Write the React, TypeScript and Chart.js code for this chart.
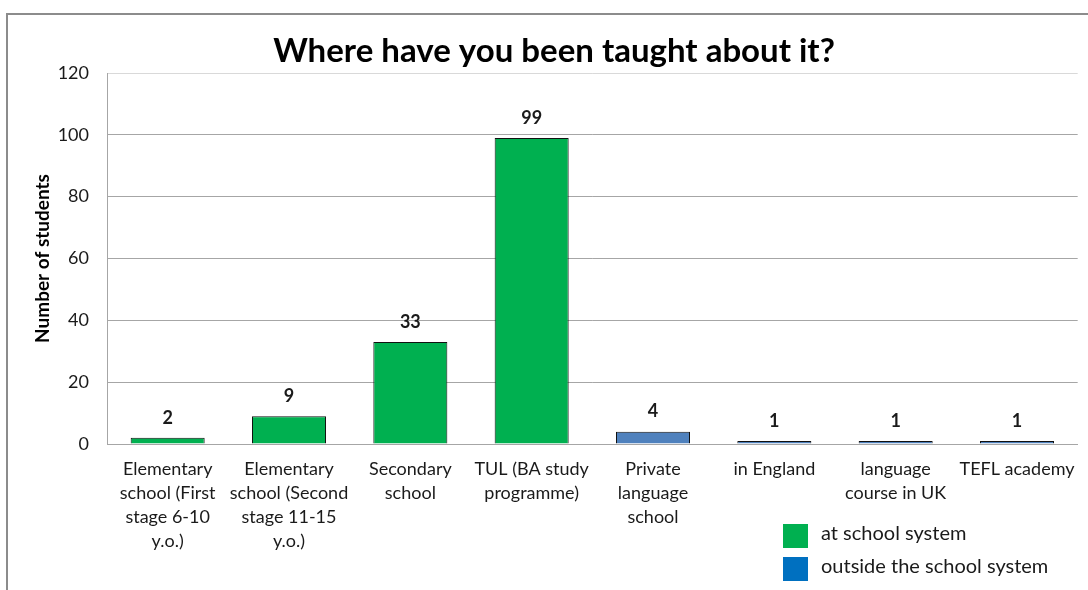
import React, { useEffect, useRef } from "react";
import { Chart, registerables } from "chart.js";

Chart.register(...registerables);

const titleText = "Where have you been taught about it?";
const yAxisTitle = "Number of students";
const categories: string[][] = [
  ["Elementary", "school (First", "stage 6-10", "y.o.)"],
  ["Elementary", "school (Second", "stage 11-15", "y.o.)"],
  ["Secondary", "school"],
  ["TUL (BA study", "programme)"],
  ["Private", "language", "school"],
  ["in England"],
  ["language", "course in UK"],
  ["TEFL academy"],
];
const values = [2, 9, 33, 99, 4, 1, 1, 1];
const groups = [0, 0, 0, 0, 1, 1, 1, 1];
const legendLabels = ["at school system", "outside the school system"];
const yMin = 0;
const yMax = 120;
const yStep = 20;

const barColors = ["#00B050", "#4F81BD"];
const legendColors = ["#00B050", "#0070C0"];
const FONT = "Lato, 'Noto Sans', sans-serif";
const TEXT = "#1a1a1a";

const decorPlugin = {
  id: "decor",
  beforeDraw(chart: any) {
    const ctx = chart.ctx;
    ctx.save();
    ctx.fillStyle = "#ffffff";
    ctx.fillRect(0, 0, chart.width, chart.height);
    ctx.strokeStyle = "#8c8c8c";
    ctx.lineWidth = 2;
    ctx.beginPath();
    ctx.moveTo(7, chart.height + 2);
    ctx.lineTo(7, 14);
    ctx.lineTo(chart.width + 2, 14);
    ctx.stroke();
    ctx.restore();
  },
  afterDatasetsDraw(chart: any) {
    const ctx = chart.ctx;
    const meta = chart.getDatasetMeta(0);
    ctx.save();
    ctx.font = `bold 18px ${FONT}`;
    ctx.fillStyle = TEXT;
    ctx.textAlign = "center";
    ctx.textBaseline = "middle";
    meta.data.forEach((bar: any, i: number) => {
      ctx.fillText(String(values[i]), bar.x, bar.y - 20);
    });
    ctx.restore();
  },
  afterDraw(chart: any) {
    const ctx = chart.ctx;
    ctx.save();
    // title
    ctx.font = `bold 33px ${FONT}`;
    ctx.fillStyle = "#000";
    ctx.textAlign = "center";
    ctx.textBaseline = "middle";
    ctx.fillText(titleText, 554, 51);
    // legend
    ctx.font = `20px ${FONT}`;
    ctx.textAlign = "left";
    legendLabels.forEach((lab, i) => {
      const y = 524 + i * 33;
      ctx.fillStyle = legendColors[i];
      ctx.fillRect(783, y, 25, 24);
      ctx.fillStyle = TEXT;
      ctx.fillText(lab, 821, y + 10);
    });
    ctx.restore();
  },
};

export default function App() {
  const ref = useRef<HTMLCanvasElement | null>(null);
  useEffect(() => {
    document.body.style.margin = "0";
    if (!ref.current) return;
    const chart = new Chart(ref.current, {
      type: "bar",
      data: {
        labels: categories,
        datasets: [
          {
            data: values,
            backgroundColor: groups.map((g) => barColors[g]),
            borderColor: "#111111",
            borderWidth: 1,
            categoryPercentage: 1,
            barPercentage: 0.61,
          },
        ],
      },
      options: {
        responsive: false,
        animation: false,
        devicePixelRatio: 1,
        layout: { padding: { top: 73, right: 8, bottom: 0, left: 0 } },
        plugins: {
          legend: { display: false },
          title: { display: false },
          tooltip: { enabled: false },
        },
        scales: {
          x: {
            grid: { display: false, drawTicks: false },
            border: { display: true, color: "#a6a6a6", width: 1 },
            ticks: {
              padding: 13,
              maxRotation: 0,
              autoSkip: false,
              color: TEXT,
              font: { family: FONT, size: 18, lineHeight: "24px" },
            },
            afterFit(scale: any) {
              scale.height = 146;
            },
          },
          y: {
            min: yMin,
            max: yMax,
            grid: {
              drawTicks: false,
              color: (c: any) => (c.tick && c.tick.value === yMax ? "#d9d9d9" : "#a6a6a6"),
            },
            border: { display: true, color: "#a6a6a6", width: 1 },
            ticks: {
              stepSize: yStep,
              padding: 18,
              color: TEXT,
              font: { family: FONT, size: 18 },
            },
            title: {
              display: true,
              text: yAxisTitle,
              color: "#000",
              font: { family: FONT, size: 19, weight: "bold" },
              padding: { top: 31, bottom: 0 },
            },
            afterFit(scale: any) {
              scale.width = 107;
            },
          },
        },
      },
      plugins: [decorPlugin],
    });
    return () => chart.destroy();
  }, []);
  return (
    <div style={{ width: 1088, height: 590 }}>
      <canvas ref={ref} width={1088} height={590} style={{ display: "block" }} />
    </div>
  );
}
